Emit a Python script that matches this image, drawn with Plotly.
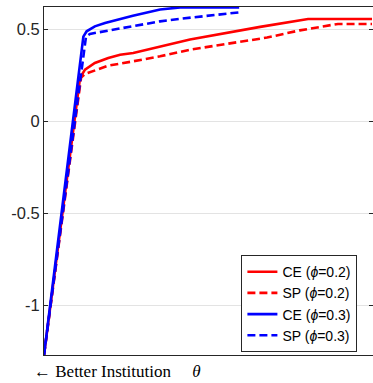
import plotly.graph_objects as go

# theta positions (normalised) and values
ce02_x = [0.0, 0.110, 0.125, 0.155, 0.196, 0.232, 0.272, 0.354, 0.445, 0.659, 0.805, 1.0]
ce02_y = [-1.268, 0.239, 0.283, 0.319, 0.346, 0.364, 0.373, 0.409, 0.446, 0.515, 0.558, 0.558]

sp02_x = [0.0, 0.113, 0.125, 0.196, 0.272, 0.354, 0.445, 0.680, 0.780, 0.896, 1.0]
sp02_y = [-1.268, 0.239, 0.259, 0.304, 0.328, 0.355, 0.391, 0.457, 0.496, 0.531, 0.531]

ce03_x = [0.0, 0.120, 0.130, 0.155, 0.186, 0.226, 0.271, 0.354, 0.415, 0.595]
ce03_y = [-1.268, 0.462, 0.491, 0.518, 0.536, 0.554, 0.576, 0.609, 0.621, 0.621]

sp03_x = [0.0, 0.128, 0.140, 0.195, 0.274, 0.354, 0.421, 0.595]
sp03_y = [-1.268, 0.462, 0.477, 0.495, 0.519, 0.545, 0.560, 0.594]

series_names = ["CE (<i>ϕ</i>=0.2)", "SP (<i>ϕ</i>=0.2)", "CE (<i>ϕ</i>=0.3)", "SP (<i>ϕ</i>=0.3)"]
y_ticks = [-1, -0.5, 0, 0.5]
y_ticklabels = ["-1", "-0.5", "0", "0.5"]

RED = "#ff0000"
BLUE = "#0000ff"
DASH = "8px,4px"

fig = go.Figure()
fig.add_trace(go.Scatter(x=ce02_x, y=ce02_y, mode="lines", name=series_names[0],
                         line=dict(color=RED, width=2.6)))
fig.add_trace(go.Scatter(x=sp02_x, y=sp02_y, mode="lines", name=series_names[1],
                         line=dict(color=RED, width=2.6, dash=DASH)))
fig.add_trace(go.Scatter(x=ce03_x, y=ce03_y, mode="lines", name=series_names[2],
                         line=dict(color=BLUE, width=2.6)))
fig.add_trace(go.Scatter(x=sp03_x, y=sp03_y, mode="lines", name=series_names[3],
                         line=dict(color=BLUE, width=2.6, dash=DASH)))

fig.update_layout(
    width=373, height=383,
    margin=dict(l=44, r=0, t=7, b=28),
    paper_bgcolor="white", plot_bgcolor="white",
    font=dict(family="Liberation Sans, Arial, sans-serif", color="#262626"),
    showlegend=True,
    hovermode=False,
    legend=dict(
        x=0.600, y=0.287, xanchor="left", yanchor="top",
        bgcolor="white", bordercolor="#262626", borderwidth=1,
        font=dict(size=14, color="#000000"),
        tracegroupgap=0, itemwidth=30,
    ),
    xaxis=dict(
        range=[0, 1.003], showgrid=False, zeroline=False,
        showticklabels=False, ticks="",
        showline=True, linecolor="#262626", linewidth=1, mirror=True,
    ),
    yaxis=dict(
        range=[-1.268, 0.623], tickvals=y_ticks, ticktext=y_ticklabels,
        showgrid=True, gridcolor="#e3e3e3", gridwidth=1, zeroline=False,
        ticks="inside", ticklen=4, tickcolor="#262626",
        showline=True, linecolor="#262626", linewidth=1, mirror="ticks",
        tickfont=dict(size=16.5, color="#262626"),
    ),
    annotations=[dict(
        text="← Better Institution\u00a0\u00a0\u00a0\u00a0\u00a0<i>θ</i>",
        xref="paper", yref="paper", x=-0.036, y=-0.046,
        xanchor="left", yanchor="middle", showarrow=False,
        font=dict(family="Liberation Serif, DejaVu Serif, serif", size=17, color="#000000"),
    )],
)

fig.write_html("out.html",
               config={"displayModeBar": False},
               post_script="document.body.style.margin='0';document.body.style.padding='0';")
